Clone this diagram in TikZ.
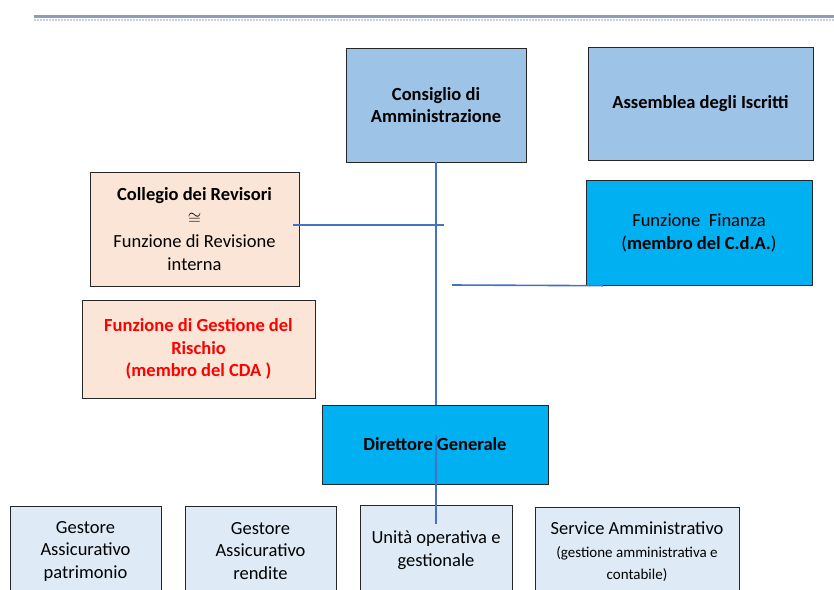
\documentclass[tikz,border=0pt]{standalone}
\usepackage{fontspec}
\setmainfont{Carlito}
\usetikzlibrary{positioning}

\definecolor{cdaBlue}{HTML}{9DC3E6}
\definecolor{dgBlue}{HTML}{00B0F0}
\definecolor{peach}{HTML}{FBE5D6}
\definecolor{paleBlue}{HTML}{DEEBF7}
\definecolor{linkBlue}{HTML}{4472C4}
\definecolor{barDark}{HTML}{8C9DB5}
\definecolor{barLight}{HTML}{C5D0DE}

\tikzset{
	box/.style = {draw = black!85, thin, align = center, inner sep = 0pt,
		font = \fontsize{18.5}{22.5}\selectfont},
	link/.style = {draw = linkBlue, line width = 1.6pt}
}

\begin{document}
\begin{tikzpicture}[x = 1pt, y = -1pt]
	%	page
	\useasboundingbox (0, 0) rectangle (834, 589);
	\clip (0, 0) rectangle (834, 589);
	
	%	top bar
	\fill[barDark] (34, 14.5) rectangle (834, 17.5);
	\draw[barLight, densely dotted, line width = 2pt] (34, 19.5) -- (834, 19.5);
	
	%	top boxes
	\node[box, fill = cdaBlue, minimum width = 180pt, minimum height = 114pt] (cda) at (436, 105)
		{\bfseries Consiglio di\\\bfseries Amministrazione};
	\node[box, fill = cdaBlue, minimum width = 225pt, minimum height = 113pt] (assemblea) at (700.5, 104)
		{\bfseries Assemblea degli Iscritti};
	
	%	side boxes
	\node[box, fill = peach, minimum width = 209pt, minimum height = 114pt] (collegio) at (194.5, 229)
		{\bfseries Collegio dei Revisori\\[1pt]$\cong$\\[1pt]Funzione di Revisione\\interna};
	\node[box, fill = dgBlue, minimum width = 226pt, minimum height = 105pt] (finanza) at (699, 233)
		{Funzione\ \ Finanza\\(\textbf{membro del C.d.A.})};
	\node[box, fill = peach, text = red, minimum width = 233pt, minimum height = 98pt] (rischio) at (198.5, 349)
		{\bfseries Funzione di Gestione del\\\bfseries Rischio\\\bfseries (membro del CDA )};
	
	%	direttore
	\node[box, fill = dgBlue, minimum width = 226pt, minimum height = 79pt] (dg) at (435, 444.5)
		{\bfseries Direttore Generale};
	
	%	bottom row
	\node[box, fill = paleBlue, minimum width = 151pt, minimum height = 90pt] (patrimonio) at (85.5, 551)
		{Gestore\\Assicurativo\\patrimonio};
	\node[box, fill = paleBlue, minimum width = 151pt, minimum height = 90pt] (rendite) at (260.5, 551)
		{Gestore\\Assicurativo\\rendite};
	\node[box, fill = paleBlue, minimum width = 152pt, minimum height = 90pt] (unita) at (436, 550)
		{Unità operativa e\\gestionale};
	\node[box, fill = paleBlue, minimum width = 204pt, minimum height = 90pt] (service) at (637, 552)
		{Service Amministrativo\\{\fontsize{15}{20}\selectfont(gestione amministrativa e}\\{\fontsize{15}{20}\selectfont contabile)}};
	
	%	links
	\coordinate (revEnd) at (444, 225);
	\coordinate (finStart) at (452, 285);
	\coordinate (dgMid) at (436, 435);
	\draw[link] (cda.south) -- (cda.south |- dg.north);
	\draw[link] ([xshift = -6pt]collegio.east |- revEnd) -- (revEnd);
	\draw[link] (finStart) -- ([xshift = 17pt]finanza.south west);
	\draw[link] (dgMid) -- ([yshift = -19pt]unita.north -| dgMid);
\end{tikzpicture}
\end{document}
